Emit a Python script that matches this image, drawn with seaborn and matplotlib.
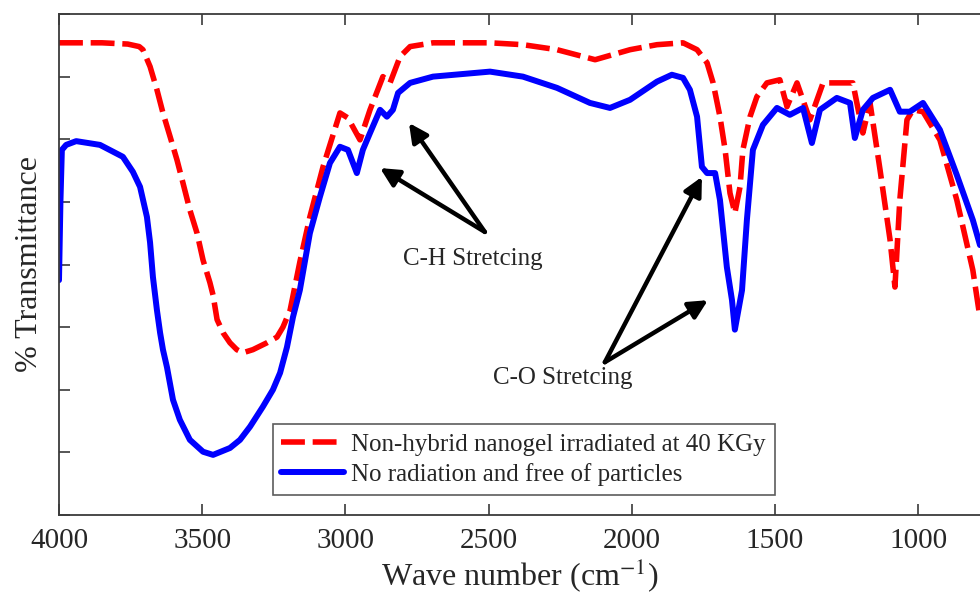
import matplotlib
matplotlib.use("Agg")
import matplotlib.pyplot as plt
import seaborn as sns
import pandas as pd

# ---- data ----
irradiated_wavenumber = [4000, 3850, 3760, 3720, 3707, 3682, 3658, 3637, 3612, 3588, 3567, 3543, 3518, 3497,
                         3473, 3462, 3448, 3427, 3403, 3379, 3358, 3323, 3274, 3239, 3218, 3193, 3159, 3124,
                         3078, 3019, 2991, 2949, 2914, 2869, 2844, 2809, 2774, 2694, 2495, 2380, 2261, 2128,
                         2006, 1912, 1821, 1772, 1737, 1716, 1692, 1674, 1657, 1640, 1622, 1612, 1587, 1563,
                         1528, 1483, 1458, 1423, 1378, 1332, 1228, 1193, 1168, 1133, 1098, 1081, 1064, 1039,
                         1018, 983, 924, 865, 809, 784]
irradiated_transmittance = [75.4, 75.4, 75.2, 74.8, 74.3, 71.6, 67.9, 64.2, 60.4, 56.7, 53.0, 48.7, 45.0, 40.7,
                            37.1, 35.1, 31.2, 29.1, 27.5, 26.4, 25.9, 26.4, 27.5, 28.4, 30.0, 32.7, 40.4, 47.6,
                            55.6, 64.2, 63.4, 59.9, 64.7, 70.0, 69.0, 73.2, 74.8, 75.4, 75.4, 75.1, 74.3, 72.7,
                            74.3, 75.1, 75.4, 74.3, 72.2, 69.0, 63.6, 58.3, 51.4, 48.2, 52.4, 58.3, 63.6, 66.8,
                            69.0, 69.5, 65.2, 69.0, 63.1, 69.0, 69.0, 61.0, 65.8, 55.1, 43.9, 36.4, 50.3, 63.1,
                            64.7, 64.4, 59.9, 50.3, 39.1, 31.5]

free_wavenumber = [4000, 3995, 3990, 3975, 3940, 3857, 3777, 3742, 3717, 3693, 3682, 3672, 3658, 3647, 3637,
                   3623, 3602, 3578, 3543, 3497, 3462, 3403, 3368, 3333, 3288, 3253, 3228, 3204, 3183, 3159,
                   3124, 3089, 3054, 3019, 2991, 2960, 2939, 2914, 2879, 2855, 2834, 2816, 2774, 2694, 2495,
                   2380, 2261, 2146, 2076, 2006, 1912, 1860, 1821, 1797, 1772, 1755, 1737, 1709, 1692, 1668,
                   1650, 1640, 1615, 1598, 1577, 1542, 1493, 1448, 1402, 1371, 1343, 1284, 1238, 1221, 1193,
                   1158, 1098, 1064, 1029, 983, 924, 865, 809, 784]
free_transmittance = [37.5, 50.0, 58.3, 59.1, 59.7, 59.1, 57.2, 54.8, 52.4, 47.6, 43.5, 38.0, 32.7, 29.1, 26.4,
                      23.6, 18.4, 15.2, 12.0, 10.1, 9.6, 10.7, 12.0, 14.1, 17.3, 20.0, 22.7, 26.8, 31.6, 35.9,
                      45.0, 50.8, 56.2, 58.8, 58.3, 54.6, 58.3, 61.0, 64.7, 63.6, 64.7, 67.4, 69.0, 70.0, 70.8,
                      70.0, 68.2, 65.8, 65.0, 66.3, 69.2, 70.3, 69.8, 67.9, 63.6, 55.6, 54.6, 54.6, 50.3, 39.6,
                      34.3, 29.6, 35.9, 47.1, 58.3, 62.3, 65.0, 63.9, 65.0, 59.4, 64.7, 66.6, 65.8, 60.2, 64.7,
                      66.6, 67.9, 64.4, 64.4, 65.8, 61.5, 54.3, 47.1, 43.1]

series_labels = ["Non-hybrid nanogel irradiated at 40 KGy", "No radiation and free of particles"]
x_ticks = [4000, 3500, 3000, 2500, 2000, 1500, 1000]
annotation_labels = ["C-H Stretcing", "C-O Stretcing"]

# ---- style ----
sns.set_theme(style="ticks")
plt.rcParams["font.family"] = ["Liberation Serif", "DejaVu Serif"]
plt.rcParams["mathtext.fontset"] = "stix"
TXT = "#262626"

fig = plt.figure(figsize=(9.8, 5.98), dpi=100)
ax = fig.add_axes([59 / 980, 83 / 598, 921 / 980, 501 / 598])

df_red = pd.DataFrame({"x": irradiated_wavenumber, "y": irradiated_transmittance})
df_blue = pd.DataFrame({"x": free_wavenumber, "y": free_transmittance})

sns.lineplot(data=df_red, x="x", y="y", ax=ax, color="#ff0000", lw=4.0,
             linestyle=(0, (4.3, 1.4)), sort=False, estimator=None, label=series_labels[0])
sns.lineplot(data=df_blue, x="x", y="y", ax=ax, color="#0000ff", lw=4.3,
             sort=False, estimator=None, label=series_labels[1])
for ln in ax.get_lines():
    ln.set_solid_joinstyle("round")
    ln.set_dash_joinstyle("round")

ax.set_xlim(4000, 784)
ax.set_ylim(0, 80)
ax.set_xticks(x_ticks)
ax.set_xticklabels([str(t) for t in x_ticks])
ax.set_yticks(range(0, 81, 10))
ax.set_yticklabels([])

for side in ["left", "bottom", "top"]:
    ax.spines[side].set_color("#3a3a3a")
    ax.spines[side].set_linewidth(1.3)
ax.spines["right"].set_visible(False)
ax.tick_params(axis="both", direction="in", length=8, width=1.2, color="#3a3a3a",
               labelsize=21, labelcolor=TXT, top=True, right=False, pad=9)

ax.set_xlabel("Wave number (cm$^{-1}$)", fontsize=23, color=TXT, labelpad=2)
ax.set_ylabel("% Transmittance", fontsize=23, color=TXT, labelpad=2)

leg = ax.legend(loc="lower left", bbox_to_anchor=(0.232, 0.040), borderaxespad=0,
                fontsize=18, frameon=True, fancybox=False, handlelength=2.5,
                handletextpad=0.3, borderpad=0.35, labelspacing=0.3)
leg.get_frame().set_edgecolor("#333333")
leg.get_frame().set_linewidth(1.2)
for t in leg.get_texts():
    t.set_color(TXT)

arrow = dict(arrowstyle="-|>", lw=3.2, color="black", mutation_scale=28, shrinkA=0, shrinkB=0)
ax.annotate("", xy=(2879, 55.4), xytext=(2513, 45.2), arrowprops=arrow)
ax.annotate("", xy=(2778, 62.6), xytext=(2513, 45.2), arrowprops=arrow)
ax.annotate("", xy=(1755, 54.0), xytext=(2094, 24.4), arrowprops=arrow)
ax.annotate("", xy=(1734, 34.3), xytext=(2094, 24.4), arrowprops=arrow)
ax.text(2554, 40.9, annotation_labels[0], fontsize=18, color=TXT, ha="center", va="center")
ax.text(2240, 21.9, annotation_labels[1], fontsize=18, color=TXT, ha="center", va="center")

fig.savefig("out.png", dpi=100)
